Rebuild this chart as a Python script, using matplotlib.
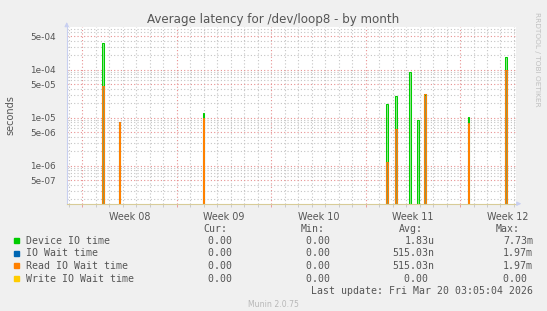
import matplotlib
matplotlib.use("Agg")
import matplotlib.pyplot as plt
from matplotlib.ticker import LogLocator, FixedLocator, MultipleLocator, FuncFormatter, NullFormatter

# spike times, days since Mon Feb 16 2026 00:00 (start of Week 08)
spike_days = [1.51, 2.76, 8.98, 22.60, 23.25, 24.31, 24.90, 25.40, 28.63, 31.41]
device_io = [3.55e-4, 7.8e-6, 1.24e-5, 1.93e-5, 2.8e-5, 9.1e-5, 8.95e-6, 3.0e-5, 1.05e-5, 1.81e-4]
io_wait = [4.57e-5, 8.0e-6, 9.7e-6, 1.2e-6, 5.7e-6, 0, 0, 3.12e-5, 7.8e-6, 9.86e-5]
read_wait = [4.57e-5, 8.0e-6, 9.7e-6, 1.2e-6, 5.7e-6, 0, 0, 3.12e-5, 7.8e-6, 9.86e-5]
write_wait = [0, 0, 0, 0, 0, 0, 0, 0, 0, 0]

week_labels = ["Week 08", "Week 09", "Week 10", "Week 11", "Week 12"]
week_starts = [0, 7, 14, 21, 28]

names = ["Device IO time", "IO Wait time", "Read IO Wait time", "Write IO Wait time"]
colors = ["#00cc00", "#0066b3", "#ff8000", "#ffcc00"]
cur = ["0.00 ", "0.00 ", "0.00 ", "0.00 "]
mins = ["0.00 ", "0.00 ", "0.00 ", "0.00 "]
avgs = ["1.83u", "515.03n", "515.03n", "0.00 "]
maxs = ["7.73m", "1.97m", "1.97m", "0.00 "]

ymin, ymax = 1.62e-7, 7.64e-4
xmin, xmax = -1.157, 32.15

W, H = 547, 311
fig = plt.figure(figsize=(W / 100, H / 100), dpi=100)
fig.patch.set_facecolor("#f0f0f0")
ax = fig.add_axes([66.7 / W, 1 - 203.7 / H, (516 - 66.7) / W, (203.7 - 27.3) / H])
ax.set_facecolor("white")
ax.set_yscale("log")
ax.set_xlim(xmin, xmax)
ax.set_ylim(ymin, ymax)

# grid
ax.xaxis.set_major_locator(FixedLocator(week_starts))
ax.xaxis.set_minor_locator(MultipleLocator(1))
ax.yaxis.set_major_locator(LogLocator(base=10, subs=(1.0, 5.0)))
ax.yaxis.set_minor_locator(LogLocator(base=10, subs=(2, 3, 4, 6, 7, 8, 9)))
ax.yaxis.set_major_formatter(FuncFormatter(lambda v, p: "%.0e" % v))
ax.yaxis.set_minor_formatter(NullFormatter())
ax.xaxis.set_major_formatter(NullFormatter())
ax.grid(which="minor", color="#c4c4c4", linestyle=(0, (1, 2)), linewidth=0.8)
ax.grid(which="major", color="#e89090", linestyle=(0, (1, 2)), linewidth=0.8)
ax.set_axisbelow(True)

ax.tick_params(axis="both", which="both", length=2, width=0.6, labelsize=6.4,
               labelcolor="#555555", pad=4)
ax.tick_params(axis="x", which="major", color="#e89090")
ax.tick_params(axis="x", which="minor", color="#c4c4c4")
ax.tick_params(axis="y", which="both", length=0, pad=8)

for s in ["top", "right"]:
    ax.spines[s].set_visible(False)
ax.spines["left"].set_color("#c8cff0")
ax.spines["bottom"].set_color("#d8cc98")
ax.spines["left"].set_linewidth(0.8)
ax.spines["bottom"].set_linewidth(0.8)

# arrows on axes
ax.annotate("", xy=(0, 1.045), xytext=(0, 1.0), xycoords="axes fraction",
            arrowprops=dict(arrowstyle="-|>", color="#c8cff0", lw=0.8, mutation_scale=6),
            annotation_clip=False)
ax.annotate("", xy=(1.018, 0), xytext=(1.0, 0), xycoords="axes fraction",
            arrowprops=dict(arrowstyle="-|>", color="#c8cff0", lw=0.8, mutation_scale=6),
            annotation_clip=False)

# spikes
w = 0.14
for vals, col in zip([device_io, io_wait, read_wait, write_wait], colors):
    for t, v in zip(spike_days, vals):
        if v <= 0:
            continue
        ax.fill_between([t - w / 2, t + w / 2], ymin, v, color=col, alpha=0.45, lw=0)
        ax.plot([t - w / 2, t - w / 2, t + w / 2, t + w / 2], [ymin, v, v, ymin],
                color=col, lw=0.75, solid_joinstyle="miter")

# week labels centered in each week
for lab, st in zip(week_labels, week_starts):
    ax.text(st + 3.5, -0.045, lab, transform=ax.get_xaxis_transform(),
            ha="center", va="top", fontsize=6.9, color="#555555")

fig.text(273 / W, 1 - 19 / H, "Average latency for /dev/loop8 - by month",
         ha="center", va="center", fontsize=8.6, color="#555555")
fig.text(10 / W, 1 - 115 / H, "seconds", rotation=90, ha="center", va="center",
         fontsize=7, color="#555555")
fig.text(537 / W, 1 - 12 / H, "RRDTOOL / TOBI OETIKER", rotation=-90, ha="center",
         va="top", fontsize=5.3, color="#c0c0c0")

# legend
mono = "DejaVu Sans Mono"
fs = 7.1
cw = 5.93
hdr_y = 229
fig.text(203 / W, 1 - hdr_y / H, "Cur:", family=mono, fontsize=fs, color="#555555", va="center")
fig.text(300.8 / W, 1 - hdr_y / H, "Min:", family=mono, fontsize=fs, color="#555555", va="center")
fig.text(398.8 / W, 1 - hdr_y / H, "Avg:", family=mono, fontsize=fs, color="#555555", va="center")
fig.text(496 / W, 1 - hdr_y / H, "Max:", family=mono, fontsize=fs, color="#555555", va="center")
row_y = [240.8, 253, 265.6, 278.5]
for i in range(4):
    y = 1 - row_y[i] / H
    fig.patches.append(plt.Rectangle((14 / W, y - 2.5 / H), 5 / W, 5 / H,
                                     transform=fig.transFigure, color=colors[i]))
    fig.text(26.2 / W, y, names[i], family=mono, fontsize=fs, color="#555555", va="center")
    fig.text((232 + cw) / W, y, cur[i], family=mono, fontsize=fs, color="#555555",
             va="center", ha="right")
    fig.text((329.7 + cw) / W, y, mins[i], family=mono, fontsize=fs, color="#555555",
             va="center", ha="right")
    fig.text(434.4 / W, y, avgs[i], family=mono, fontsize=fs, color="#555555",
             va="center", ha="right")
    fig.text(532.8 / W, y, maxs[i], family=mono, fontsize=fs, color="#555555",
             va="center", ha="right")
fig.text(532.8 / W, 1 - 290.7 / H, "Last update: Fri Mar 20 03:05:04 2026", family=mono,
         fontsize=fs, color="#555555", va="center", ha="right")
fig.text(273 / W, 1 - 304.3 / H, "Munin 2.0.75", fontsize=5.6, color="#b8b8b8",
         ha="center", va="center")

fig.savefig("out.png", dpi=100, facecolor=fig.get_facecolor())
